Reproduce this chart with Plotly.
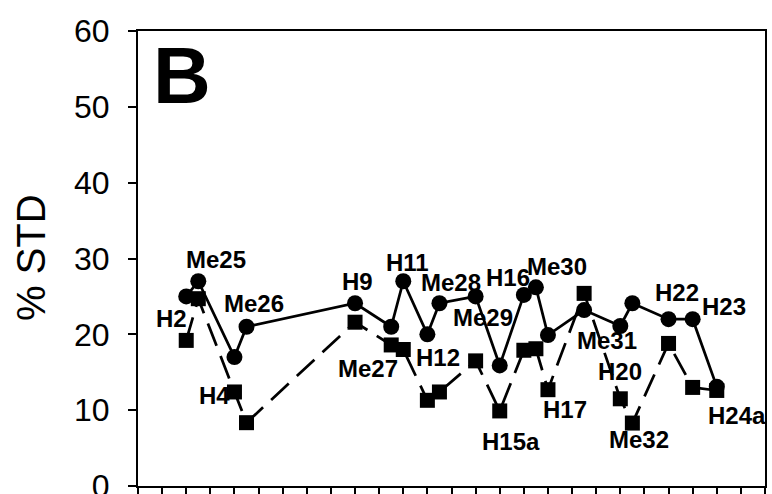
import plotly.graph_objects as go

# ---- data ----
positions = [2, 2.5, 4, 4.5, 9, 10.5, 11, 12, 12.5, 14, 15, 16, 16.5, 17, 18.5, 20, 20.5, 22, 23, 24]
labels = ["H2", "Me25", "H4", "Me26", "H9", "Me27", "H11", "H12", "Me28", "Me29",
          "H15a", "H16", "Me30", "H17", "Me31", "H20", "Me32", "H22", "H23", "H24a"]
circle_std = [25.0, 27.0, 17.0, 21.0, 24.1, 21.0, 27.0, 20.0, 24.1, 25.0,
              15.9, 25.2, 26.2, 19.9, 23.2, 21.1, 24.1, 22.0, 22.0, 13.1]
square_std = [19.2, 24.7, 12.4, 8.35, 21.6, 18.6, 18.0, 11.3, 12.4, 16.5,
              9.9, 17.9, 18.1, 12.7, 25.4, 11.5, 8.3, 18.8, 13.0, 12.6]
y_ticks = [0, 10, 20, 30, 40, 50, 60]
x_ticks = list(range(0, 27))

# ---- label placement (pixel offsets from each circle point) ----
label_shift = {
    "H2": (-15, -22), "Me25": (18, 22), "H4": (-20, -38), "Me26": (7, 23),
    "H9": (2, 22), "Me27": (-23, -42), "H11": (4, 19), "H12": (11, -23),
    "Me28": (12, 21), "Me29": (7, -21), "H15a": (11, -76), "H16": (-16, 17),
    "Me30": (21, 21), "H17": (17, -74), "Me31": (23, -30), "H20": (0, -46),
    "Me32": (7, -136), "H22": (8, 27), "H23": (31, 13), "H24a": (20, -29),
}

FONT = "Liberation Sans, Arial, sans-serif"

fig = go.Figure()
fig.add_trace(go.Scatter(
    x=positions, y=square_std, mode="lines+markers",
    line=dict(color="black", width=2.75, dash="24px,11px"),
    marker=dict(symbol="square", size=15, color="black"),
    showlegend=False, cliponaxis=False))
fig.add_trace(go.Scatter(
    x=positions, y=circle_std, mode="lines+markers",
    line=dict(color="black", width=2.75),
    marker=dict(symbol="circle", size=16, color="black"),
    showlegend=False, cliponaxis=False))

for xv, yv, lab in zip(positions, circle_std, labels):
    dx, dy = label_shift[lab]
    fig.add_annotation(x=xv, y=yv, xref="x", yref="y", text=lab, showarrow=False,
                       xshift=dx, yshift=dy, xanchor="center", yanchor="middle",
                       font=dict(family=FONT, size=24, color="black", weight="bold"))

W, H = 772, 494
ml, mr, mt, mb = 138, 7, 31, 8
pw, ph = W - ml - mr, H - mt - mb

# panel letter
fig.add_annotation(xref="paper", yref="paper", x=(181.5 - ml) / pw, y=(H - mb - 75.5) / ph,
                   text="B", showarrow=False, xanchor="center", yanchor="middle",
                   font=dict(family=FONT, size=80, color="black", weight="bold"))
# y-axis title
fig.add_annotation(xref="paper", yref="paper", x=(31 - ml) / pw, y=(H - mb - 258) / ph,
                   text="% STD", showarrow=False, textangle=-90,
                   xanchor="center", yanchor="middle",
                   font=dict(family=FONT, size=40, color="black"))

fig.update_layout(
    template="none",
    width=W, height=H, autosize=False,
    margin=dict(l=ml, r=mr, t=mt, b=mb, pad=0, autoexpand=False),
    paper_bgcolor="white", plot_bgcolor="white",
    xaxis=dict(range=[0, 26], tickvals=x_ticks, showticklabels=False,
               ticks="outside", ticklen=8, tickwidth=2, tickcolor="black",
               showline=True, linecolor="black", linewidth=2, mirror=True,
               showgrid=False, zeroline=False, fixedrange=True, automargin=False),
    yaxis=dict(range=[0, 60], tickvals=y_ticks, ticks="outside", ticklen=8,
               tickwidth=2, tickcolor="black", ticklabelstandoff=12,
               ticklabeloverflow="allow",
               tickfont=dict(family=FONT, size=32, color="black"),
               showline=True, linecolor="black", linewidth=2, mirror=True,
               showgrid=False, zeroline=False, fixedrange=True, automargin=False),
)

fig.write_html("out.html", config={"displayModeBar": False})
